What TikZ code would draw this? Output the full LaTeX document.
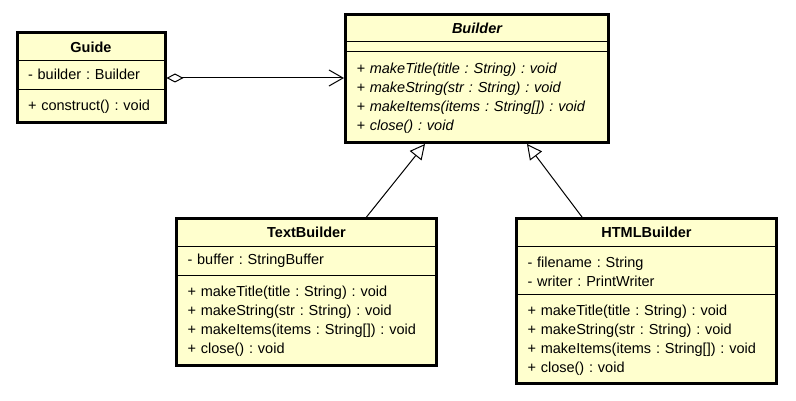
\documentclass[tikz,border=0pt]{standalone}
\usepackage{fontspec}
\setmainfont{Liberation Sans}
\usetikzlibrary{positioning,fit,arrows.meta}
\definecolor{classfill}{HTML}{FFFFCE}
\frenchspacing
\begin{document}
\begin{tikzpicture}[x=1pt,y=-1pt,inner sep=0pt,outer sep=0pt,line width=1pt,
font=\fontsize{14.5}{19}\selectfont,
classname/.style={draw,fill=classfill,rectangle,anchor=north west,inner xsep=11pt,text width=#1,align=center,font=\fontsize{14.5}{19}\selectfont\bfseries},
emptypart/.style={draw,fill=classfill,rectangle,inner xsep=11pt,text width=#1},
members/.style={emptypart=#1,align=left,execute at begin node=\strut},
classbox/.style={draw,rectangle,line width=3pt,inner sep=0pt,outer sep=1.5pt},
aggregation/.style={{Diamond[open,length=17pt,width=9pt]}-{Straight Barb[length=14pt,width=16pt]}},
inherits/.style={-{Triangle[open,length=15pt,width=15pt]}}]

\useasboundingbox (0,0) rectangle (796,401);

\draw (17,33) node[classname=126pt,minimum height=28pt] (guideT) {Guide};
\node[members=126pt,minimum height=29pt,below=0pt of guideT] (guideA) {- builder : Builder};
\node[members=126pt,minimum height=33pt,below=0pt of guideA] (guideO) {+ construct() : void};
\node[classbox,fit=(guideT)(guideO)] (guide) {};

\draw (345.5,14.5) node[classname=241pt,minimum height=27.5pt] (builderT) {\itshape Builder};
\node[emptypart=241pt,minimum height=10pt,below=0pt of builderT] (builderA) {};
\node[members=241pt,minimum height=90.5pt,below=0pt of builderA] (builderO) {\itshape
+ makeTitle(title : String) : void\\
+ makeString(str : String) : void\\
+ makeItems(items : String[]) : void\\
+ close() : void};
\node[classbox,fit=(builderT)(builderO)] (builder) {};

\draw (176.5,218.5) node[classname=238pt,minimum height=28.5pt] (textbT) {TextBuilder};
\node[members=238pt,minimum height=28pt,below=0pt of textbT] (textbA) {- buffer : StringBuffer};
\node[members=238pt,minimum height=90.5pt,below=0pt of textbA] (textbO) {
+ makeTitle(title : String) : void\\
+ makeString(str : String) : void\\
+ makeItems(items : String[]) : void\\
+ close() : void};
\node[classbox,fit=(textbT)(textbO)] (textb) {};

\draw (516.5,218.5) node[classname=238pt,minimum height=28.5pt] (htmlbT) {HTMLBuilder};
\node[members=238pt,minimum height=47pt,below=0pt of htmlbT] (htmlbA) {- filename : String\\
- writer : PrintWriter};
\node[members=238pt,minimum height=89.5pt,below=0pt of htmlbA] (htmlbO) {
+ makeTitle(title : String) : void\\
+ makeString(str : String) : void\\
+ makeItems(items : String[]) : void\\
+ close() : void};
\node[classbox,fit=(htmlbT)(htmlbO)] (htmlb) {};

\draw[aggregation] (guide.east) -- (guide.east -| builder.west);
\draw[inherits] ([xshift=60pt]textb.north) -- ([xshift=-52pt]builder.south);
\draw[inherits] ([xshift=-64.5pt]htmlb.north) -- ([xshift=50pt]builder.south);
\end{tikzpicture}
\end{document}
